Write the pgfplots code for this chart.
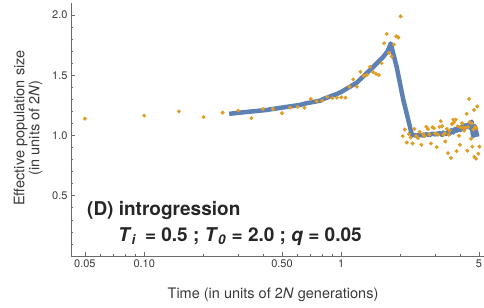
\documentclass[border=0pt]{standalone}
\usepackage{fontspec}
\setmainfont{TeX Gyre Heros}
\usepackage{pgfplots}
\pgfplotsset{compat=1.18}
\definecolor{mblue}{HTML}{5E81B5}
\definecolor{morange}{HTML}{E19C24}
\definecolor{axgray}{HTML}{6B6B6B}
\definecolor{txtgray}{HTML}{3A3A3A}
\begin{document}
\begin{tikzpicture}[x=1bp,y=1bp]
\begin{axis}[
  at={(71bp,51bp)}, anchor=south west,
  scale only axis, width=413bp, height=253bp,
  xmode=log, xmin=0.0425, xmax=5.3, ymin=0, ymax=2.1,
  axis x line*=bottom, axis y line*=left,
  axis line style={axgray, line width=0.9bp},
  tick align=inside,
  major tick length=4.5bp, minor tick length=2.5bp,
  tick style={axgray, line width=0.7bp},
  xtick={0.05,0.1,0.5,1,5},
  xticklabels={0.05,0.10,0.50,1,5},
  minor xtick={0.06,0.07,0.08,0.09,0.2,0.3,0.4,0.6,0.7,0.8,0.9,2,3,4},
  ytick={0.5,1.0,1.5,2.0},
  yticklabels={0.5,1.0,1.5,2.0},
  minor ytick={0.1,0.2,0.3,0.4,0.6,0.7,0.8,0.9,1.1,1.2,1.3,1.4,1.6,1.7,1.8,1.9},
  ticklabel style={font=\fontsize{11bp}{13bp}\selectfont, text=txtgray},
  /pgf/number format/assume math mode=true,
  clip=true,
]
\addplot[mblue, line width=4.5bp, line join=round] coordinates {
(0.27,1.180) (0.306,1.190) (0.418,1.212) (0.452,1.221) (0.617,1.254) (0.665,1.268)
(0.78,1.289) (0.81,1.303) (0.95,1.345) (1.0,1.362) (1.197,1.438) (1.453,1.570)
(1.633,1.653) (1.72,1.70) (1.781,1.764) (1.91,1.57) (2.065,1.295) (2.23,1.074) (2.28,1.006)
(2.4,1.000) (2.5,1.006) (2.6,1.000) (2.7,1.010) (2.8,1.005) (2.9,1.015) (3.0,1.010) (3.16,1.020)
(3.25,1.005) (3.3,1.025) (3.4,1.010) (3.5,1.030) (3.55,1.015) (3.62,1.045) (3.7,1.025)
(3.78,1.055) (3.86,1.040) (3.95,1.065) (4.02,1.045) (4.1,1.075) (4.18,1.050) (4.26,1.085)
(4.33,1.070) (4.4,1.090) (4.47,1.065) (4.53,1.095) (4.59,1.116) (4.64,1.020) (4.68,0.995)
(4.72,1.080) (4.78,1.070) (4.84,1.030) (4.9,0.990)
};
\addplot[only marks, color=morange, mark=*, mark size=1.8bp, mark options={solid, fill=morange, draw=morange}] coordinates {
(0.05,1.140) (0.10,1.165) (0.15,1.200) (0.20,1.153) (0.25,1.190) (0.30,1.207)
(0.35,1.144) (0.40,1.220) (0.45,1.220) (0.50,1.185) (0.55,1.231) (0.60,1.237)
(0.65,1.231) (0.70,1.303) (0.75,1.284) (0.80,1.289) (0.85,1.322) (0.90,1.310)
(0.95,1.314) (1.00,1.317) (1.05,1.314) (1.10,1.405) (1.15,1.466) (1.20,1.405)
(1.25,1.529) (1.30,1.496) (1.35,1.504) (1.40,1.570) (1.45,1.526) (1.50,1.512)
(1.55,1.502) (1.60,1.601) (1.65,1.766) (1.70,1.843) (1.75,1.686) (1.80,1.656)
(1.85,1.755) (1.90,1.824) (1.95,1.813) (2.00,1.989)
(2.05,0.995) (2.10,1.050) (2.15,0.942) (2.20,1.012) (2.25,0.983) (2.30,0.934)
(2.35,1.055) (2.40,0.998) (2.45,0.979) (2.50,1.031) (2.55,0.923) (2.60,1.012)
(2.65,0.995) (2.70,1.072) (2.75,1.053) (2.80,1.008) (2.85,0.934) (2.90,1.069)
(2.95,1.061) (3.00,1.017) (3.05,0.904) (3.10,1.006) (3.15,1.072) (3.20,1.119)
(3.25,1.078) (3.30,1.006) (3.35,1.020) (3.37,0.950) (3.43,1.055) (3.48,0.854)
(3.51,1.006) (3.55,1.040) (3.60,0.814) (3.64,1.094) (3.70,1.132) (3.73,1.111)
(3.81,1.132) (3.85,0.871) (3.90,1.078) (3.96,0.998) (4.00,0.923) (4.05,1.066)
(4.10,1.102) (4.16,1.066) (4.20,1.040) (4.26,1.066) (4.33,1.180) (4.36,0.874)
(4.40,1.070) (4.45,1.304) (4.47,1.111) (4.55,0.973) (4.60,1.100) (4.62,0.908)
(4.68,1.050) (4.72,1.212) (4.73,0.823) (4.78,1.070) (4.83,0.808) (4.85,1.061)
(4.90,1.241) (4.96,0.849) (5.02,0.908)
};
\end{axis}
\node[rotate=90, align=center, text=txtgray, font=\fontsize{14.5bp}{15bp}\selectfont] at (28,179)
  {Effective population size\\(in units of 2\textit{N})};
\node[text=txtgray, font=\fontsize{14.5bp}{17bp}\selectfont] at (273,12)
  {Time (in units of 2\textit{N} generations)};
\node[anchor=west, inner sep=0pt, text=black!85, font=\fontsize{19bp}{22bp}\selectfont\bfseries] at (87,97)
  {(D) introgression};
\node[anchor=west, inner sep=0pt, text=black!85, font=\fontsize{19bp}{22bp}\selectfont\bfseries] at (118,70)
  {\textit{T}\textsubscript{\textit{i}}\, = 0.5 ; \textit{T}\textsubscript{\textit{0}} = 2.0 ; \textit{q} = 0.05};
\pgfresetboundingbox
\path[use as bounding box] (0,0) rectangle (484,307);
\end{tikzpicture}
\end{document}
